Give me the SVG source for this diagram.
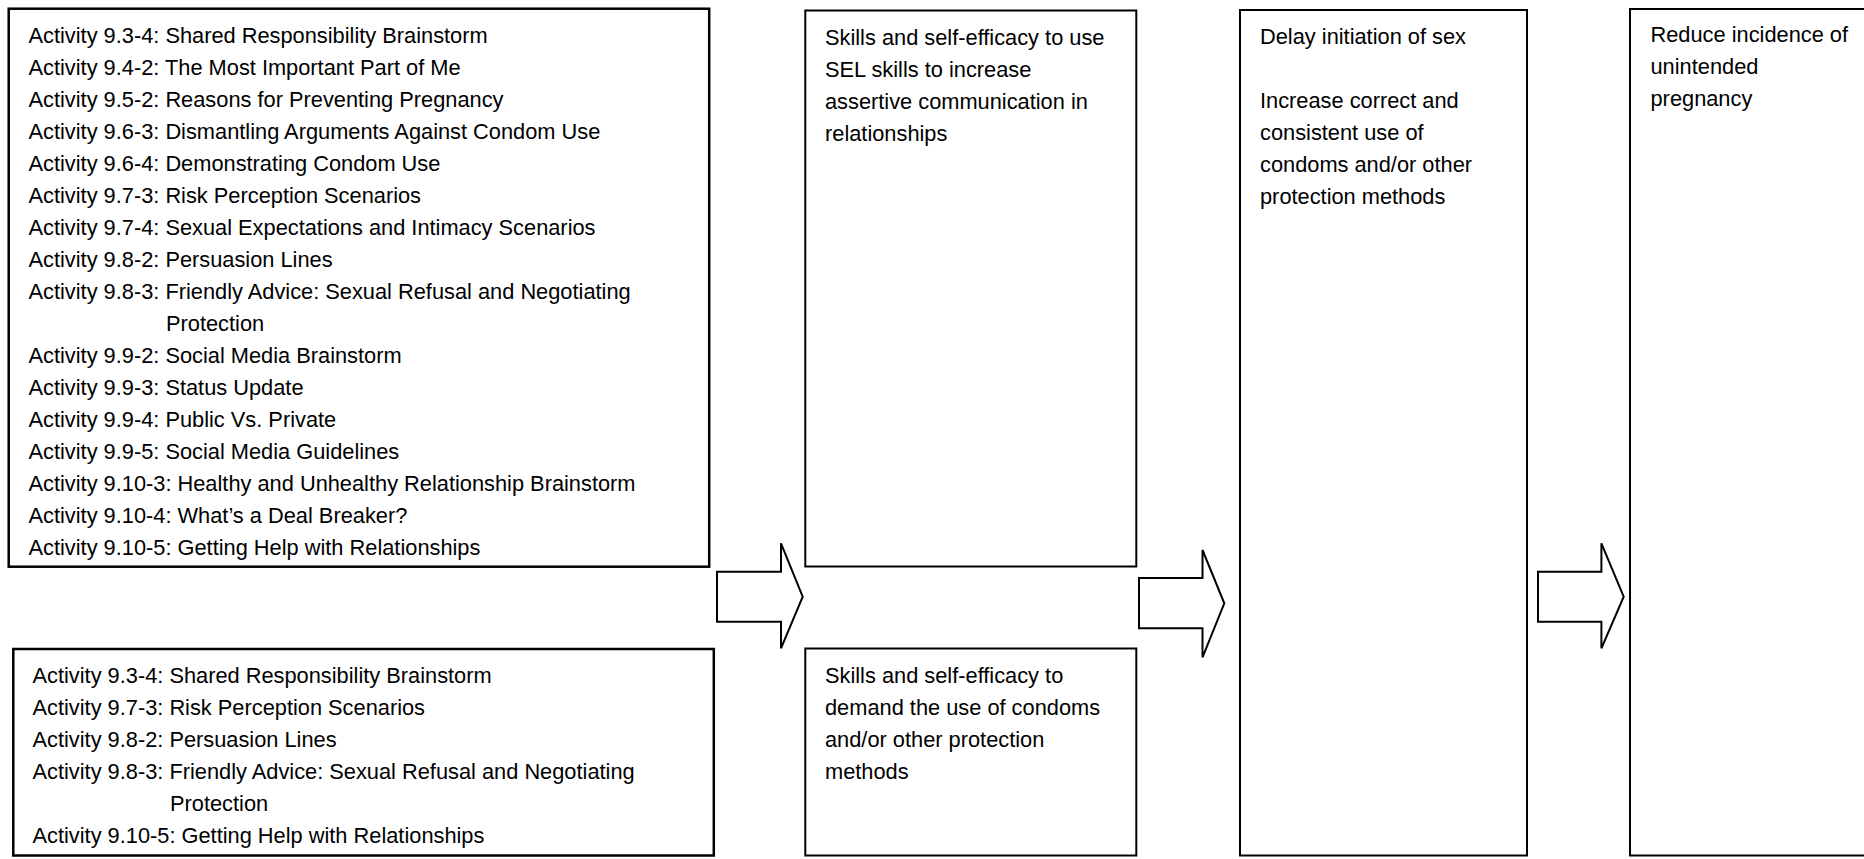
<svg xmlns="http://www.w3.org/2000/svg" width="1864" height="859" viewBox="0 0 1864 859">
<style>
  .box { fill: #ffffff; stroke: #000000; stroke-width: 2; }
  .thick { stroke-width: 2.5; }
  .arrow { fill: #ffffff; stroke: #000000; stroke-width: 2; stroke-linejoin: miter; }
  text { font-family: "Liberation Sans", Arial, sans-serif; font-size: 21.8px; fill: #000000; }
</style>
<rect width="1864" height="859" fill="#ffffff"/>

<g id="activities-top">
  <rect class="box thick" x="8.7" y="8.7" width="700.5" height="558"/>
  <text x="28.5" y="42.7">Activity 9.3-4: Shared Responsibility Brainstorm</text>
  <text x="28.5" y="74.7">Activity 9.4-2: The Most Important Part of Me</text>
  <text x="28.5" y="106.7">Activity 9.5-2: Reasons for Preventing Pregnancy</text>
  <text x="28.5" y="138.7">Activity 9.6-3: Dismantling Arguments Against Condom Use</text>
  <text x="28.5" y="170.7">Activity 9.6-4: Demonstrating Condom Use</text>
  <text x="28.5" y="202.7">Activity 9.7-3: Risk Perception Scenarios</text>
  <text x="28.5" y="234.7">Activity 9.7-4: Sexual Expectations and Intimacy Scenarios</text>
  <text x="28.5" y="266.7">Activity 9.8-2: Persuasion Lines</text>
  <text x="28.5" y="298.7">Activity 9.8-3: Friendly Advice: Sexual Refusal and Negotiating</text>
  <text x="166" y="330.7">Protection</text>
  <text x="28.5" y="362.7">Activity 9.9-2: Social Media Brainstorm</text>
  <text x="28.5" y="394.7">Activity 9.9-3: Status Update</text>
  <text x="28.5" y="426.7">Activity 9.9-4: Public Vs. Private</text>
  <text x="28.5" y="458.7">Activity 9.9-5: Social Media Guidelines</text>
  <text x="28.5" y="490.7">Activity 9.10-3: Healthy and Unhealthy Relationship Brainstorm</text>
  <text x="28.5" y="522.7">Activity 9.10-4: What’s a Deal Breaker?</text>
  <text x="28.5" y="554.7">Activity 9.10-5: Getting Help with Relationships</text>
</g>

<g id="activities-bottom">
  <rect class="box thick" x="13.3" y="649" width="700.5" height="206.5"/>
  <text x="32.5" y="683.3">Activity 9.3-4: Shared Responsibility Brainstorm</text>
  <text x="32.5" y="715.3">Activity 9.7-3: Risk Perception Scenarios</text>
  <text x="32.5" y="747.3">Activity 9.8-2: Persuasion Lines</text>
  <text x="32.5" y="779.3">Activity 9.8-3: Friendly Advice: Sexual Refusal and Negotiating</text>
  <text x="170" y="811.3">Protection</text>
  <text x="32.5" y="843.3">Activity 9.10-5: Getting Help with Relationships</text>
</g>

<g id="skills-assertive">
  <rect class="box" x="805.3" y="10.5" width="331" height="556"/>
  <text x="825" y="44.5">Skills and self-efficacy to use</text>
  <text x="825" y="76.5">SEL skills to increase</text>
  <text x="825" y="108.5">assertive communication in</text>
  <text x="825" y="140.5">relationships</text>
</g>

<g id="skills-condoms">
  <rect class="box" x="805.3" y="648.5" width="331" height="207"/>
  <text x="825" y="683.3">Skills and self-efficacy to</text>
  <text x="825" y="715.3">demand the use of condoms</text>
  <text x="825" y="747.3">and/or other protection</text>
  <text x="825" y="779.3">methods</text>
</g>

<g id="behaviors">
  <rect class="box" x="1240" y="10" width="287" height="845.5"/>
  <text x="1260" y="44">Delay initiation of sex</text>
  <text x="1260" y="108">Increase correct and</text>
  <text x="1260" y="140">consistent use of</text>
  <text x="1260" y="172">condoms and/or other</text>
  <text x="1260" y="204">protection methods</text>
</g>

<g id="outcome">
  <rect class="box" x="1630" y="9" width="260" height="846.5"/>
  <text x="1650.5" y="42">Reduce incidence of</text>
  <text x="1650.5" y="74">unintended</text>
  <text x="1650.5" y="106">pregnancy</text>
</g>

<g id="connectors">
  <polygon class="arrow" points="717,571.7 781,571.7 781,543.3 802.7,596.7 781,648.3 781,621.7 717,621.7"/>
  <polygon class="arrow" points="1139,578 1202.5,578 1202.5,550 1224.3,603.3 1202.5,657.3 1202.5,628.3 1139,628.3"/>
  <polygon class="arrow" points="1538,571.7 1601.4,571.7 1601.4,543.3 1623.7,596.7 1601.4,648.3 1601.4,621.7 1538,621.7"/>
</g>
</svg>
